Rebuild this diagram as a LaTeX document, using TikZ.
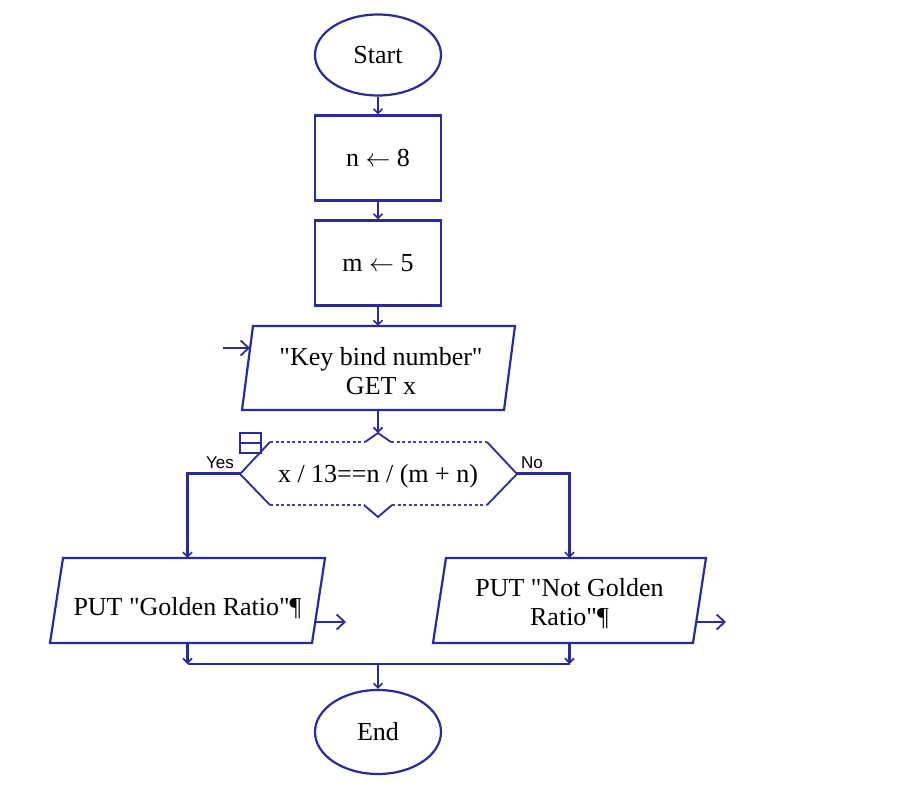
\documentclass[tikz,border=0pt]{standalone}
\usepackage{fontspec}
\setmainfont{Liberation Serif}
\newfontfamily\lblfont{Liberation Sans}
\usetikzlibrary{shapes.geometric,arrows.meta}
\definecolor{flow}{RGB}{42,42,155}
\newcommand{\qq}{\textquotedbl}
\tikzset{
  every picture/.style={x=1pt,y=-1pt},
  line/.style={draw=flow,line width=2.2pt},
  arr/.style={line,-{Straight Barb[length=4.5pt,width=9pt,line width=1.6pt]}},
  bigarr/.style={line,-{Straight Barb[length=8pt,width=15pt,line width=1.8pt]}},
  txt/.style={font=\fontsize{26}{29}\selectfont,text=black,align=center},
  term/.style={txt,ellipse,line,inner sep=0pt,minimum width=126pt,minimum height=81pt},
  proc/.style={txt,rectangle,line,inner sep=0pt,minimum width=126pt,minimum height=85pt},
  ghost/.style={txt,inner sep=0pt},
  lbl/.style={font=\lblfont\fontsize{17}{19}\selectfont,text=black,inner sep=0pt},
  dots/.style={draw=flow!70!gray,line width=1.2pt,dash pattern=on 3pt off 2.5pt},
}
\begin{document}
\begin{tikzpicture}
\useasboundingbox (0,0) rectangle (898,803);
\fill[white] (0,0) rectangle (898,803);

% terminals and processes
\node[term] (start) at (378,55) {Start};
\node[proc] (n8) at (378,158) {n $\leftarrow$ 8};
\node[proc] (m5) at (378,263) {m $\leftarrow$ 5};

% input parallelogram
\draw[line] (253,326) -- (515,326) -- (504,410) -- (242,410) -- cycle;
\node[ghost,minimum width=262pt,minimum height=84pt] (inp) at (378,368) {};
\node[txt] (inptxt) at (381,371) {\qq Key bind number\qq\\GET x};
\coordinate (inin) at (223,348);
\coordinate (inedge) at (250,348);

% decision
\node[ghost,minimum width=277pt,minimum height=63pt] (dec) at (378.5,473.5) {};
\node[txt] (dectxt) at (378,476) {x / 13==n / (m + n)};
\coordinate (dectop) at (378,433);
\draw[line,line width=1.8pt] (270,505) -- (240,474) -- (270,442);
\draw[line,line width=1.8pt] (487,442) -- (517,474) -- (487,505);
\draw[dots] (270,442) -- (365,442);
\draw[dots] (391,442) -- (487,442);
\draw[dots] (270,505) -- (364,505);
\draw[dots] (392,505) -- (487,505);
\draw[line,line width=1.8pt] (365,442) -- (378,433) -- (391,442);
\draw[line,line width=1.8pt] (364,505) -- (378,517) -- (392,505);
% collapse icon
\draw[draw=flow,line width=2pt] (240,433) rectangle (261,453);
\draw[draw=flow,line width=2pt] (240,443) -- (261,443);

\node[lbl] (yeslbl) at (220,463) {Yes};
\node[lbl] (nolbl) at (532,463) {No};

% output parallelograms
\draw[line] (63,558) -- (325,558) -- (312,643) -- (50,643) -- cycle;
\node[ghost,minimum width=262pt,minimum height=85pt] (yes) at (187.5,600.5) {};
\node[txt] (yestxt) at (187.5,608) {PUT \qq Golden Ratio\qq¶};
\draw[line] (446,558) -- (706,558) -- (693,643) -- (433,643) -- cycle;
\node[ghost,minimum width=260pt,minimum height=85pt] (no) at (569.5,600.5) {};
\node[txt] (notxt) at (569.5,604) {PUT \qq Not Golden\\Ratio\qq¶};
\coordinate (yesout) at (315,622);
\coordinate (yesend) at (346,622);
\coordinate (noout) at (696,622);
\coordinate (noend) at (726,622);

% end
\node[term,minimum height=84pt] (end) at (378,732) {End};

% joins
\coordinate (jl) at (187.5,664);
\coordinate (jr) at (569.5,664);
\coordinate (jm) at (378,664);

% connectors
\draw[arr] (start) -- (n8);
\draw[arr] (n8) -- (m5);
\draw[arr] (m5) -- (inp.north);
\draw[bigarr] (inin) -- (inedge);
\draw[arr] (inp.south) -- (dectop);
\draw[arr] (dec.west) -| (yes.north);
\draw[arr] (dec.east) -| (no.north);
\draw[bigarr] (yesout) -- (yesend);
\draw[bigarr] (noout) -- (noend);
\draw[arr] (yes.south) -- (jl);
\draw[arr] (no.south) -- (jr);
\draw[line] (jl) -- (jr);
\draw[arr] (jm) -- (end.north);
\end{tikzpicture}
\end{document}
